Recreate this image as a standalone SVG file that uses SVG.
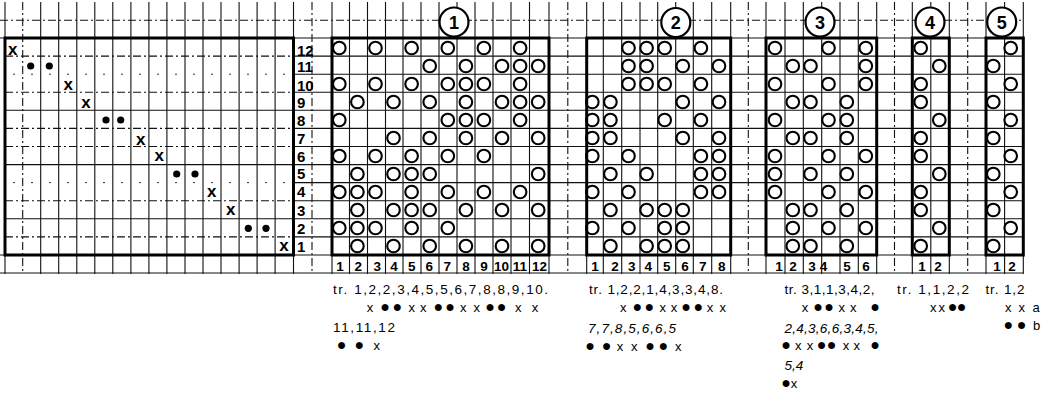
<svg xmlns="http://www.w3.org/2000/svg" width="1045" height="402" viewBox="0 0 1045 402">
<style>
.bg{fill:#fff}
.ln{stroke:#111;stroke-width:1.1;fill:none}
.dd{stroke:#111;stroke-width:1.1;fill:none;stroke-dasharray:8 3 2 3}
.dt{stroke:#333;stroke-width:1;fill:none;stroke-dasharray:2 16}
.frame{stroke:#000;stroke-width:3;fill:none}
.c{stroke:#000;stroke-width:2.1;fill:none}
.cn{stroke:#000;stroke-width:2.2;fill:#fff}
.cnt{font-family:"Liberation Sans",Arial,sans-serif;font-weight:bold;font-size:18px;text-anchor:middle;fill:#000}
.rn{font-family:"Liberation Sans",Arial,sans-serif;font-weight:bold;font-size:15px;fill:#000}
.cl{font-family:"Liberation Sans",Arial,sans-serif;font-weight:bold;font-size:13.5px;text-anchor:middle;fill:#000}
.xm{font-family:"Liberation Sans",Arial,sans-serif;font-weight:bold;font-size:17px;text-anchor:middle;fill:#000}
.t{font-family:"Liberation Sans",Arial,sans-serif;font-size:13.5px;fill:#000}
.it{font-style:italic}
.mk{font-family:"Liberation Sans",Arial,sans-serif;font-size:13px;text-anchor:middle;fill:#000}
.d{font-size:16px}
.dot{fill:#000}
</style>
<rect class="bg" x="0" y="0" width="1045" height="402"/>

<g id="graph-paper">
<path class="ln" d="M5 2V274M40.7 2V274M58.7 2V274M76.8 2V274M94.8 2V274M112.8 2V274M130.9 2V274M148.9 2V274M166.9 2V274M185 2V274M203 2V274M221 2V274M239.1 2V274M257.1 2V274M275.1 2V274M293.5 2V274M332 2V274M349.5 2V274M367.5 2V274M385.5 2V274M403 2V274M421 2V274M439 2V274M457 2V274M475 2V274M493 2V274M511 2V274M529.5 2V274M549 2V274M586.7 2V274M603.3 2V274M621.7 2V274M640 2V274M657.7 2V274M675.7 2V274M693.3 2V274M711.7 2V274M730.7 2V274M766 2V274M785 2V274M803.3 2V274M821.7 2V274M840 2V274M858.3 2V274M876.7 2V274M912.3 2V274M930.8 2V274M949.3 2V274M986 2V274M1004.6 2V274M1023.3 2V274"/>
<path class="dd" d="M22.7 2V274M312 2V274M567.8 2V274M748.3 2V274M894.5 2V274M967.7 2V274"/>
<path class="dd" d="M0 20.3H1023.3M5 56.1H293.5M5 92.2H293.5M5 128.4H293.5M5 146.5H293.5M5 200.7H293.5M5 236.9H293.5"/>
<path class="dt" d="M13 74.2H293.5M13 182.6H293.5"/>
<path class="ln" d="M0 38H1023.3M5 110.3H293.5M5 164.6H293.5M5 218.8H293.5M0 255H1023.3M0 273H1023.3M293.5 56.1H1023.3M293.5 74.2H1023.3M293.5 92.2H1023.3M293.5 110.3H1023.3M293.5 128.4H1023.3M293.5 146.5H1023.3M293.5 164.6H1023.3M293.5 182.6H1023.3M293.5 200.7H1023.3M293.5 218.8H1023.3M293.5 236.9H1023.3"/>
</g>

<g id="threading">
<rect class="frame" x="5" y="38" width="288.5" height="217"/>
<text class="xm" x="12.7" y="54.5">x</text>
<circle class="dot" cx="30.7" cy="66" r="3.6"/><circle class="dot" cx="49.3" cy="66" r="3.6"/>
<text class="xm" x="68.3" y="89.5">x</text>
<text class="xm" x="86" y="107.5">x</text>
<circle class="dot" cx="106" cy="120" r="3.6"/><circle class="dot" cx="120.7" cy="120" r="3.6"/>
<text class="xm" x="140.7" y="144.5">x</text>
<text class="xm" x="159.3" y="160.5">x</text>
<circle class="dot" cx="176.7" cy="174" r="3.6"/><circle class="dot" cx="195" cy="174" r="3.6"/>
<text class="xm" x="211.7" y="197">x</text>
<text class="xm" x="230.7" y="214.5">x</text>
<circle class="dot" cx="248.3" cy="228.3" r="3.6"/><circle class="dot" cx="266" cy="228.3" r="3.6"/>
<text class="xm" x="284" y="251">x</text>
</g>

<g id="row-numbers">
<text class="rn" x="297" y="55.5">12</text>
<text class="rn" x="297" y="72">11</text>
<text class="rn" x="297" y="90.5">10</text>
<text class="rn" x="297" y="108">9</text>
<text class="rn" x="297" y="125.5">8</text>
<text class="rn" x="297" y="143.5">7</text>
<text class="rn" x="297" y="161.5">6</text>
<text class="rn" x="297" y="178.5">5</text>
<text class="rn" x="297" y="197">4</text>
<text class="rn" x="297" y="215.5">3</text>
<text class="rn" x="297" y="233.5">2</text>
<text class="rn" x="297" y="252">1</text>
</g>

<g id="draft-1">
<rect class="frame" x="332" y="38" width="217" height="217"/>
<circle class="cn" cx="454" cy="22" r="14.5"/><text class="cnt" x="454" y="28.5">1</text>
<g class="c">
<circle cx="339.3" cy="48" r="6.3"/><circle cx="375.5" cy="48" r="6.3"/><circle cx="411.6" cy="48" r="6.3"/><circle cx="447.8" cy="48" r="6.3"/><circle cx="483.9" cy="48" r="6.3"/><circle cx="520.1" cy="48" r="6.3"/>
<circle cx="429.7" cy="66" r="6.3"/><circle cx="465.9" cy="66" r="6.3"/><circle cx="502" cy="66" r="6.3"/><circle cx="520.1" cy="66" r="6.3"/><circle cx="538.2" cy="66" r="6.3"/>
<circle cx="339.3" cy="84" r="6.3"/><circle cx="375.5" cy="84" r="6.3"/><circle cx="411.6" cy="84" r="6.3"/><circle cx="447.8" cy="84" r="6.3"/><circle cx="465.9" cy="84" r="6.3"/><circle cx="483.9" cy="84" r="6.3"/><circle cx="520.1" cy="84" r="6.3"/>
<circle cx="357.4" cy="102" r="6.3"/><circle cx="393.5" cy="102" r="6.3"/><circle cx="429.7" cy="102" r="6.3"/><circle cx="465.9" cy="102" r="6.3"/><circle cx="502" cy="102" r="6.3"/><circle cx="520.1" cy="102" r="6.3"/><circle cx="538.2" cy="102" r="6.3"/>
<circle cx="339.3" cy="120" r="6.3"/><circle cx="447.8" cy="120" r="6.3"/><circle cx="465.9" cy="120" r="6.3"/><circle cx="483.9" cy="120" r="6.3"/><circle cx="520.1" cy="120" r="6.3"/>
<circle cx="393.5" cy="138" r="6.3"/><circle cx="429.7" cy="138" r="6.3"/><circle cx="465.9" cy="138" r="6.3"/><circle cx="502" cy="138" r="6.3"/><circle cx="538.2" cy="138" r="6.3"/>
<circle cx="339.3" cy="156" r="6.3"/><circle cx="375.5" cy="156" r="6.3"/><circle cx="411.6" cy="156" r="6.3"/><circle cx="447.8" cy="156" r="6.3"/><circle cx="483.9" cy="156" r="6.3"/>
<circle cx="357.4" cy="174" r="6.3"/><circle cx="393.5" cy="174" r="6.3"/><circle cx="411.6" cy="174" r="6.3"/><circle cx="429.7" cy="174" r="6.3"/><circle cx="538.2" cy="174" r="6.3"/>
<circle cx="339.3" cy="192" r="6.3"/><circle cx="357.4" cy="192" r="6.3"/><circle cx="375.5" cy="192" r="6.3"/><circle cx="411.6" cy="192" r="6.3"/><circle cx="447.8" cy="192" r="6.3"/><circle cx="483.9" cy="192" r="6.3"/><circle cx="520.1" cy="192" r="6.3"/>
<circle cx="357.4" cy="210" r="6.3"/><circle cx="393.5" cy="210" r="6.3"/><circle cx="411.6" cy="210" r="6.3"/><circle cx="429.7" cy="210" r="6.3"/><circle cx="465.9" cy="210" r="6.3"/><circle cx="502" cy="210" r="6.3"/><circle cx="538.2" cy="210" r="6.3"/>
<circle cx="339.3" cy="228" r="6.3"/><circle cx="357.4" cy="228" r="6.3"/><circle cx="375.5" cy="228" r="6.3"/><circle cx="411.6" cy="228" r="6.3"/><circle cx="447.8" cy="228" r="6.3"/>
<circle cx="357.4" cy="246" r="6.3"/><circle cx="393.5" cy="246" r="6.3"/><circle cx="429.7" cy="246" r="6.3"/><circle cx="465.9" cy="246" r="6.3"/><circle cx="502" cy="246" r="6.3"/><circle cx="538.2" cy="246" r="6.3"/>
</g>
<text class="cl" y="270.5"><tspan x="340">1</tspan><tspan x="358.3">2</tspan><tspan x="377.3">3</tspan><tspan x="394">4</tspan><tspan x="411.7">5</tspan><tspan x="429.3">6</tspan><tspan x="447.3">7</tspan><tspan x="466">8</tspan><tspan x="484">9</tspan><tspan x="501.5">10</tspan><tspan x="520">11</tspan><tspan x="539.5">12</tspan></text>
<text class="t" x="333" y="294" textLength="215" lengthAdjust="spacing">tr. 1,2,2,3,4,5,5,6,7,8,8,9,10.</text>
<text class="mk" y="312"><tspan x="370">x</tspan><tspan class="d" x="385">●</tspan><tspan class="d" x="397.3">●</tspan><tspan x="411.7">x</tspan><tspan x="423.3">x</tspan><tspan class="d" x="438.3">●</tspan><tspan class="d" x="450">●</tspan><tspan x="463.3">x</tspan><tspan x="476.7">x</tspan><tspan class="d" x="490">●</tspan><tspan class="d" x="501.7">●</tspan><tspan x="518.3">x</tspan><tspan x="535">x</tspan></text>
<text class="t" x="333" y="332" textLength="62" lengthAdjust="spacing">11,11,12</text>
<text class="mk" y="350"><tspan class="d" x="341.7">●</tspan><tspan class="d" x="359.3">●</tspan><tspan x="376.7">x</tspan></text>
</g>

<g id="draft-2">
<rect class="frame" x="586.7" y="38" width="144" height="217"/>
<circle class="cn" cx="675.8" cy="22.5" r="14.5"/><text class="cnt" x="675.8" y="29">2</text>
<g class="c">
<circle cx="628.5" cy="48" r="6.3"/><circle cx="646.6" cy="48" r="6.3"/><circle cx="664.7" cy="48" r="6.3"/><circle cx="700.9" cy="48" r="6.3"/>
<circle cx="628.5" cy="66" r="6.3"/><circle cx="646.6" cy="66" r="6.3"/><circle cx="682.8" cy="66" r="6.3"/><circle cx="719" cy="66" r="6.3"/>
<circle cx="628.5" cy="84" r="6.3"/><circle cx="646.6" cy="84" r="6.3"/><circle cx="664.7" cy="84" r="6.3"/><circle cx="700.9" cy="84" r="6.3"/>
<circle cx="592.3" cy="102" r="6.3"/><circle cx="610.4" cy="102" r="6.3"/><circle cx="682.8" cy="102" r="6.3"/><circle cx="719" cy="102" r="6.3"/>
<circle cx="592.3" cy="120" r="6.3"/><circle cx="610.4" cy="120" r="6.3"/><circle cx="664.7" cy="120" r="6.3"/><circle cx="700.9" cy="120" r="6.3"/>
<circle cx="592.3" cy="138" r="6.3"/><circle cx="610.4" cy="138" r="6.3"/><circle cx="682.8" cy="138" r="6.3"/><circle cx="719" cy="138" r="6.3"/>
<circle cx="592.3" cy="156" r="6.3"/><circle cx="628.5" cy="156" r="6.3"/><circle cx="700.9" cy="156" r="6.3"/><circle cx="719" cy="156" r="6.3"/>
<circle cx="610.4" cy="174" r="6.3"/><circle cx="646.6" cy="174" r="6.3"/><circle cx="700.9" cy="174" r="6.3"/><circle cx="719" cy="174" r="6.3"/>
<circle cx="592.3" cy="192" r="6.3"/><circle cx="628.5" cy="192" r="6.3"/><circle cx="700.9" cy="192" r="6.3"/><circle cx="719" cy="192" r="6.3"/>
<circle cx="610.4" cy="210" r="6.3"/><circle cx="646.6" cy="210" r="6.3"/><circle cx="664.7" cy="210" r="6.3"/><circle cx="682.8" cy="210" r="6.3"/>
<circle cx="592.3" cy="228" r="6.3"/><circle cx="628.5" cy="228" r="6.3"/><circle cx="664.7" cy="228" r="6.3"/><circle cx="682.8" cy="228" r="6.3"/>
<circle cx="610.4" cy="246" r="6.3"/><circle cx="646.6" cy="246" r="6.3"/><circle cx="664.7" cy="246" r="6.3"/><circle cx="682.8" cy="246" r="6.3"/>
</g>
<text class="cl" y="270.5"><tspan x="595">1</tspan><tspan x="615">2</tspan><tspan x="631.7">3</tspan><tspan x="648.3">4</tspan><tspan x="666.7">5</tspan><tspan x="685">6</tspan><tspan x="702.7">7</tspan><tspan x="721.7">8</tspan></text>
<text class="t" x="589" y="294" textLength="134" lengthAdjust="spacing">tr. 1,2,2,1,4,3,3,4,8.</text>
<text class="mk" y="312"><tspan x="623.3">x</tspan><tspan class="d" x="637.3">●</tspan><tspan class="d" x="649.3">●</tspan><tspan x="662.7">x</tspan><tspan x="674">x</tspan><tspan class="d" x="686">●</tspan><tspan class="d" x="698.3">●</tspan><tspan x="710">x</tspan><tspan x="722.7">x</tspan></text>
<text class="t it" x="588" y="332.5" textLength="88" lengthAdjust="spacing">7,7,8,5,6,6,5</text>
<text class="mk" y="350.5"><tspan class="d" x="590">●</tspan><tspan class="d" x="606.7">●</tspan><tspan x="620">x</tspan><tspan x="634.3">x</tspan><tspan class="d" x="650">●</tspan><tspan class="d" x="663.3">●</tspan><tspan x="678.3">x</tspan></text>
</g>

<g id="draft-3">
<rect class="frame" x="766" y="38" width="110.7" height="217"/>
<circle class="cn" cx="820" cy="22" r="14.5"/><text class="cnt" x="820" y="28.5">3</text>
<g class="c">
<circle cx="775" cy="48" r="6.3"/><circle cx="828.5" cy="48" r="6.3"/><circle cx="865.8" cy="48" r="6.3"/>
<circle cx="792.8" cy="66" r="6.3"/><circle cx="810.5" cy="66" r="6.3"/><circle cx="865.8" cy="66" r="6.3"/>
<circle cx="775" cy="84" r="6.3"/><circle cx="828.5" cy="84" r="6.3"/><circle cx="865.8" cy="84" r="6.3"/>
<circle cx="792.8" cy="102" r="6.3"/><circle cx="810.5" cy="102" r="6.3"/><circle cx="846.8" cy="102" r="6.3"/>
<circle cx="775" cy="120" r="6.3"/><circle cx="828.5" cy="120" r="6.3"/><circle cx="846.8" cy="120" r="6.3"/>
<circle cx="792.8" cy="138" r="6.3"/><circle cx="810.5" cy="138" r="6.3"/><circle cx="846.8" cy="138" r="6.3"/>
<circle cx="775" cy="156" r="6.3"/><circle cx="828.5" cy="156" r="6.3"/><circle cx="865.8" cy="156" r="6.3"/>
<circle cx="775" cy="174" r="6.3"/><circle cx="810.5" cy="174" r="6.3"/><circle cx="846.8" cy="174" r="6.3"/>
<circle cx="775" cy="192" r="6.3"/><circle cx="828.5" cy="192" r="6.3"/><circle cx="865.8" cy="192" r="6.3"/>
<circle cx="792.8" cy="210" r="6.3"/><circle cx="810.5" cy="210" r="6.3"/><circle cx="846.8" cy="210" r="6.3"/>
<circle cx="792.8" cy="228" r="6.3"/><circle cx="828.5" cy="228" r="6.3"/><circle cx="865.8" cy="228" r="6.3"/>
<circle cx="792.8" cy="246" r="6.3"/><circle cx="810.5" cy="246" r="6.3"/><circle cx="846.8" cy="246" r="6.3"/>
</g>
<text class="cl" y="270.5"><tspan x="779">1</tspan><tspan x="793">2</tspan><tspan x="812">3</tspan><tspan x="823.5">4</tspan><tspan x="847">5</tspan><tspan x="866">6</tspan></text>
<text class="t" x="784.5" y="294" textLength="90" lengthAdjust="spacing">tr. 3,1,1,3,4,2,</text>
<text class="mk" y="312"><tspan x="805">x</tspan><tspan class="d" x="818">●</tspan><tspan class="d" x="829">●</tspan><tspan x="841.7">x</tspan><tspan x="853.3">x</tspan><tspan class="d" x="875">●</tspan></text>
<text class="t it" x="784.5" y="332.5" textLength="94" lengthAdjust="spacing">2,4,3,6,6,3,4,5,</text>
<text class="mk" y="350"><tspan class="d" x="786">●</tspan><tspan x="798.3">x</tspan><tspan x="810">x</tspan><tspan class="d" x="821.7">●</tspan><tspan class="d" x="831.7">●</tspan><tspan x="846">x</tspan><tspan x="856.7">x</tspan><tspan class="d" x="875">●</tspan></text>
<text class="t it" x="784.5" y="370">5,4</text>
<text class="mk" y="387.5"><tspan class="d" x="786">●</tspan><tspan x="794">x</tspan></text>
</g>

<g id="draft-4">
<rect class="frame" x="912.3" y="38" width="37" height="217"/>
<circle class="cn" cx="930" cy="22" r="14.5"/><text class="cnt" x="930" y="28.5">4</text>
<g class="c">
<circle cx="920.7" cy="48" r="6.3"/><circle cx="939.3" cy="66" r="6.3"/><circle cx="920.7" cy="84" r="6.3"/><circle cx="920.7" cy="102" r="6.3"/>
<circle cx="939.3" cy="120" r="6.3"/><circle cx="920.7" cy="138" r="6.3"/><circle cx="920.7" cy="156" r="6.3"/><circle cx="939.3" cy="174" r="6.3"/>
<circle cx="920.7" cy="192" r="6.3"/><circle cx="920.7" cy="210" r="6.3"/><circle cx="939.3" cy="228" r="6.3"/><circle cx="920.7" cy="246" r="6.3"/>
</g>
<text class="cl" y="270.5"><tspan x="922">1</tspan><tspan x="938">2</tspan></text>
<text class="t" x="897" y="294" textLength="72" lengthAdjust="spacing">tr. 1,1,2,2</text>
<text class="mk" y="312"><tspan x="933.3">x</tspan><tspan x="941.7">x</tspan><tspan class="d" x="952.7">●</tspan><tspan class="d" x="961.7">●</tspan></text>
</g>

<g id="draft-5">
<rect class="frame" x="986" y="38" width="37.3" height="217"/>
<circle class="cn" cx="1001.7" cy="22" r="14.5"/><text class="cnt" x="1001.7" y="28.5">5</text>
<g class="c">
<circle cx="1010.7" cy="48" r="6.3"/><circle cx="993.3" cy="66" r="6.3"/><circle cx="1010.7" cy="84" r="6.3"/><circle cx="993.3" cy="102" r="6.3"/>
<circle cx="1010.7" cy="120" r="6.3"/><circle cx="993.3" cy="138" r="6.3"/><circle cx="1010.7" cy="156" r="6.3"/><circle cx="993.3" cy="174" r="6.3"/>
<circle cx="1010.7" cy="192" r="6.3"/><circle cx="993.3" cy="210" r="6.3"/><circle cx="1010.7" cy="228" r="6.3"/><circle cx="993.3" cy="246" r="6.3"/>
</g>
<text class="cl" y="270.5"><tspan x="997">1</tspan><tspan x="1012">2</tspan></text>
<text class="t" x="985.5" y="294" textLength="39" lengthAdjust="spacing">tr. 1,2</text>
<text class="mk" y="312"><tspan x="1008.3">x</tspan><tspan x="1021.7">x</tspan><tspan x="1036">a</tspan></text>
<text class="mk" y="329.5"><tspan class="d" x="1008.3">●</tspan><tspan class="d" x="1021.7">●</tspan><tspan x="1036.7">b</tspan></text>
</g>
</svg>
